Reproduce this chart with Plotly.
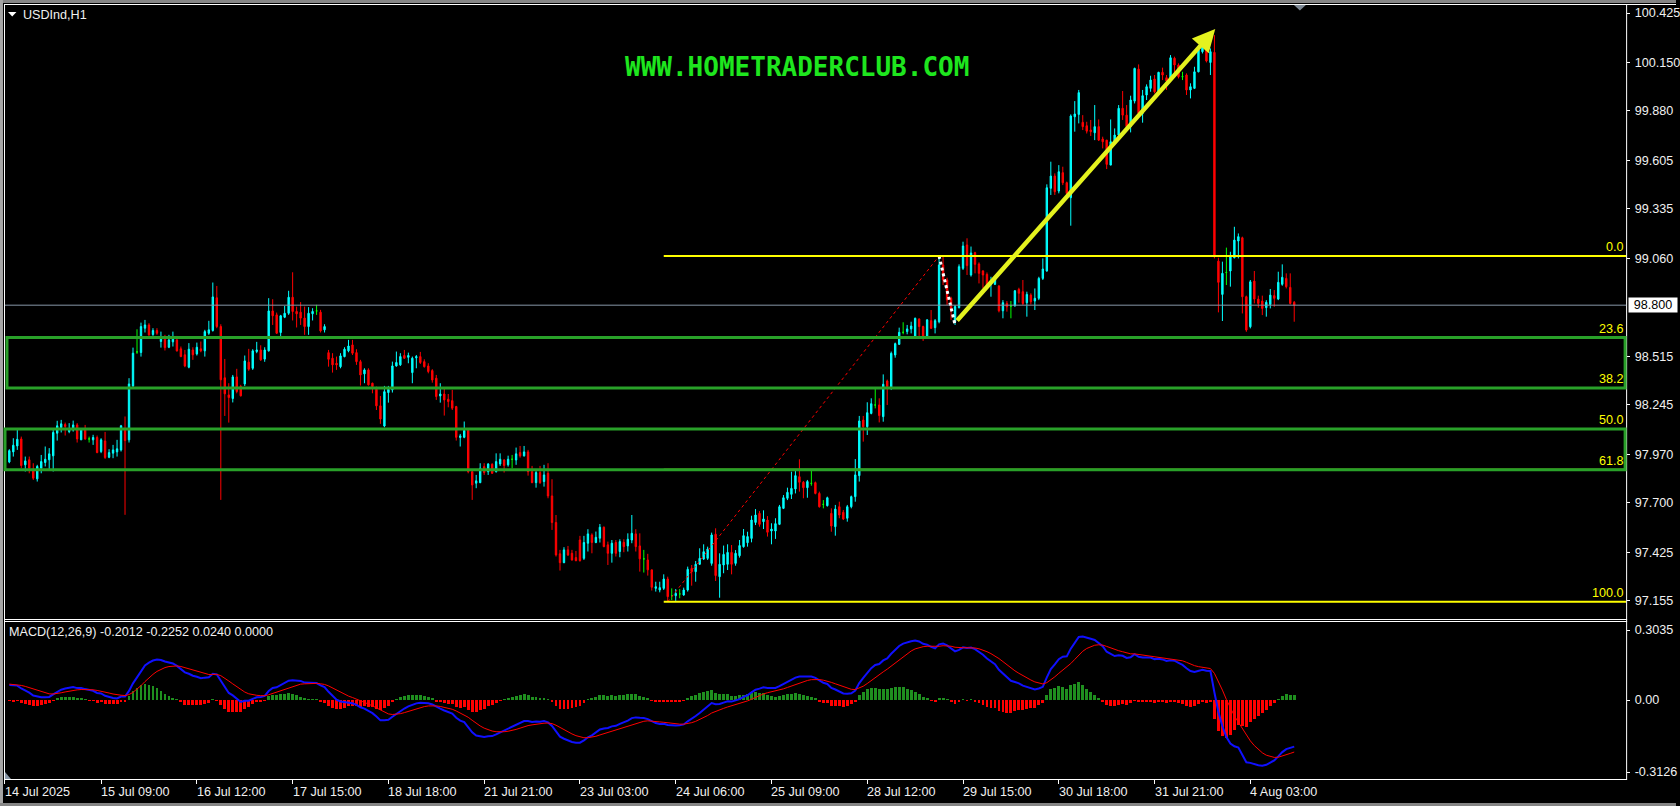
import plotly.graph_objects as go

# ---------------------------------------------------------------- data (H1 bars, oldest first)
OPEN = [
    97.928, 97.984, 98.017, 98.056, 97.912, 97.940, 97.888, 97.834, 97.893, 97.925,
    97.940, 97.962, 98.088, 98.119, 98.136, 98.097, 98.106, 98.134, 98.051, 98.110,
    98.056, 98.051, 98.064, 97.986, 98.045, 97.954, 97.977, 97.984, 97.995, 98.110,
    98.051, 98.351, 98.540, 98.537, 98.672, 98.690, 98.637, 98.659, 98.598, 98.611,
    98.566, 98.596, 98.607, 98.557, 98.524, 98.455, 98.551, 98.529, 98.557, 98.546,
    98.644, 98.659, 98.841, 98.681, 98.396, 98.301, 98.281, 98.401, 98.348, 98.362,
    98.483, 98.449, 98.542, 98.551, 98.500, 98.546, 98.768, 98.746, 98.648, 98.733,
    98.755, 98.844, 98.765, 98.761, 98.728, 98.681, 98.752, 98.768, 98.761, 98.663,
    98.536, 98.505, 98.477, 98.458, 98.514, 98.546, 98.579, 98.536, 98.486, 98.418,
    98.440, 98.366, 98.332, 98.240, 98.128, 98.314, 98.329, 98.462, 98.468, 98.520,
    98.510, 98.425, 98.507, 98.514, 98.486, 98.462, 98.436, 98.394, 98.295, 98.306,
    98.277, 98.269, 98.236, 98.064, 98.065, 98.103, 97.874, 97.810, 97.813, 97.902,
    97.874, 97.915, 97.874, 97.917, 97.939, 97.912, 97.943, 97.939, 97.980, 97.962,
    97.984, 97.874, 97.813, 97.869, 97.819, 97.865, 97.739, 97.591, 97.417, 97.368,
    97.439, 97.420, 97.396, 97.494, 97.392, 97.476, 97.522, 97.480, 97.504, 97.565,
    97.467, 97.420, 97.480, 97.430, 97.481, 97.461, 97.494, 97.528, 97.461, 97.389,
    97.383, 97.328, 97.225, 97.216, 97.225, 97.277, 97.184, 97.184, 97.194, 97.188,
    97.216, 97.336, 97.318, 97.359, 97.388, 97.392, 97.364, 97.526, 97.290, 97.355,
    97.359, 97.425, 97.364, 97.407, 97.457, 97.479, 97.503, 97.592, 97.642, 97.596,
    97.605, 97.544, 97.544, 97.581, 97.670, 97.726, 97.748, 97.778, 97.846, 97.815,
    97.785, 97.809, 97.813, 97.753, 97.692, 97.685, 97.642, 97.568, 97.679, 97.648,
    97.615, 97.679, 97.735, 97.852, 98.161, 98.124, 98.198, 98.245, 98.245, 98.180,
    98.378, 98.338, 98.523, 98.582, 98.649, 98.653, 98.668, 98.625, 98.723, 98.681,
    98.625, 98.714, 98.675, 98.708, 99.024, 98.940, 98.838, 98.708, 98.786, 99.005,
    99.135, 98.968, 99.092, 99.029, 98.990, 98.971, 98.916, 98.916, 98.906, 98.769,
    98.810, 98.795, 98.797, 98.888, 98.875, 98.814, 98.856, 98.823, 98.838, 98.949,
    98.990, 99.450, 99.518, 99.435, 99.537, 99.481, 99.398, 99.848, 99.861, 99.817,
    99.798, 99.774, 99.759, 99.793, 99.724, 99.718, 99.579, 99.709, 99.746, 99.895,
    99.857, 99.793, 99.935, 100.113, 99.867, 99.969, 100.006, 100.058, 99.991, 100.095,
    100.065, 100.052, 100.173, 100.136, 100.071, 100.080, 99.997, 100.006, 100.098, 100.210,
    100.256, 100.150, 100.206, 99.045, 98.860, 98.982, 98.990, 99.064, 99.157, 99.175,
    98.847, 98.680, 98.934, 98.834, 98.823, 98.786, 98.804, 98.853, 98.834, 98.916,
    98.949, 98.899, 98.816,
]
HIGH = [
    97.999, 98.060, 98.106, 98.069, 97.958, 97.958, 97.921, 97.912, 97.967, 98.014,
    98.005, 98.116, 98.157, 98.162, 98.147, 98.144, 98.158, 98.144, 98.116, 98.134,
    98.069, 98.079, 98.075, 98.060, 98.095, 97.999, 98.023, 98.051, 98.134, 98.181,
    98.394, 98.564, 98.666, 98.703, 98.718, 98.700, 98.672, 98.672, 98.653, 98.635,
    98.635, 98.653, 98.629, 98.570, 98.551, 98.589, 98.566, 98.592, 98.598, 98.663,
    98.713, 98.926, 98.907, 98.694, 98.501, 98.366, 98.412, 98.446, 98.357, 98.520,
    98.557, 98.555, 98.596, 98.577, 98.566, 98.839, 98.833, 98.759, 98.746, 98.796,
    98.880, 98.983, 98.792, 98.817, 98.792, 98.789, 98.783, 98.802, 98.774, 98.694,
    98.551, 98.533, 98.514, 98.533, 98.566, 98.607, 98.607, 98.555, 98.496, 98.449,
    98.449, 98.369, 98.347, 98.295, 98.351, 98.351, 98.486, 98.542, 98.533, 98.551,
    98.536, 98.514, 98.523, 98.540, 98.499, 98.477, 98.444, 98.412, 98.366, 98.338,
    98.306, 98.329, 98.240, 98.084, 98.153, 98.106, 97.884, 97.856, 97.921, 97.921,
    97.921, 97.921, 97.976, 97.976, 97.943, 97.963, 97.967, 98.008, 98.017, 98.017,
    97.995, 97.906, 97.884, 97.906, 97.912, 97.921, 97.832, 97.633, 97.439, 97.454,
    97.461, 97.439, 97.433, 97.517, 97.517, 97.554, 97.531, 97.541, 97.583, 97.569,
    97.485, 97.494, 97.494, 97.498, 97.498, 97.531, 97.633, 97.554, 97.531, 97.439,
    97.417, 97.328, 97.262, 97.262, 97.303, 97.290, 97.225, 97.221, 97.221, 97.229,
    97.346, 97.355, 97.377, 97.448, 97.470, 97.457, 97.535, 97.559, 97.420, 97.463,
    97.470, 97.466, 97.438, 97.494, 97.555, 97.540, 97.629, 97.666, 97.655, 97.659,
    97.627, 97.587, 97.615, 97.689, 97.744, 97.785, 97.874, 97.880, 97.943, 97.822,
    97.828, 97.878, 97.819, 97.763, 97.716, 97.735, 97.670, 97.689, 97.707, 97.661,
    97.689, 97.741, 97.944, 98.184, 98.184, 98.260, 98.282, 98.334, 98.282, 98.415,
    98.386, 98.542, 98.592, 98.675, 98.705, 98.690, 98.708, 98.731, 98.727, 98.686,
    98.723, 98.773, 98.723, 99.074, 99.070, 98.953, 98.847, 98.801, 99.027, 99.153,
    99.172, 99.126, 99.097, 99.038, 98.995, 98.982, 98.958, 98.953, 98.912, 98.828,
    98.823, 98.823, 98.884, 98.897, 98.940, 98.875, 98.866, 98.893, 98.958, 99.060,
    99.472, 99.598, 99.533, 99.579, 99.570, 99.487, 99.861, 99.935, 99.997, 99.857,
    99.820, 99.830, 99.913, 99.833, 99.737, 99.718, 99.833, 99.783, 99.913, 99.991,
    99.913, 99.965, 100.121, 100.139, 99.997, 100.028, 100.076, 100.080, 100.098, 100.121,
    100.080, 100.191, 100.182, 100.145, 100.098, 100.089, 100.034, 100.126, 100.247, 100.262,
    100.275, 100.228, 100.302, 99.064, 99.042, 99.120, 99.097, 99.236, 99.199, 99.181,
    98.853, 98.940, 98.990, 98.853, 98.853, 98.828, 98.890, 98.884, 98.986, 99.027,
    98.977, 98.977, 98.823,
]
LOW = [
    97.921, 97.958, 97.995, 97.893, 97.875, 97.865, 97.828, 97.819, 97.865, 97.903,
    97.884, 97.875, 98.047, 98.092, 98.075, 98.088, 98.097, 98.036, 98.051, 98.051,
    98.036, 98.023, 97.977, 97.977, 97.945, 97.949, 97.949, 97.958, 97.986, 97.634,
    98.036, 98.344, 98.529, 98.514, 98.648, 98.629, 98.629, 98.635, 98.564, 98.548,
    98.561, 98.570, 98.542, 98.511, 98.455, 98.449, 98.496, 98.520, 98.538, 98.514,
    98.635, 98.653, 98.672, 97.717, 98.184, 98.147, 98.259, 98.310, 98.292, 98.350,
    98.435, 98.440, 98.533, 98.490, 98.485, 98.542, 98.690, 98.640, 98.626, 98.728,
    98.746, 98.715, 98.676, 98.690, 98.635, 98.635, 98.715, 98.746, 98.648, 98.648,
    98.458, 98.425, 98.440, 98.449, 98.510, 98.538, 98.523, 98.468, 98.353, 98.366,
    98.353, 98.310, 98.217, 98.140, 98.121, 98.258, 98.314, 98.458, 98.462, 98.501,
    98.477, 98.366, 98.449, 98.473, 98.453, 98.421, 98.369, 98.273, 98.258, 98.186,
    98.232, 98.217, 98.047, 98.014, 98.060, 97.865, 97.717, 97.782, 97.810, 97.856,
    97.856, 97.862, 97.869, 97.906, 97.869, 97.902, 97.893, 97.912, 97.952, 97.958,
    97.852, 97.810, 97.785, 97.806, 97.791, 97.726, 97.550, 97.402, 97.324, 97.365,
    97.405, 97.379, 97.376, 97.374, 97.383, 97.430, 97.420, 97.476, 97.480, 97.454,
    97.355, 97.368, 97.402, 97.398, 97.426, 97.430, 97.476, 97.430, 97.318, 97.313,
    97.296, 97.213, 97.207, 97.203, 97.216, 97.150, 97.160, 97.155, 97.170, 97.184,
    97.207, 97.240, 97.262, 97.355, 97.383, 97.383, 97.351, 97.266, 97.173, 97.309,
    97.327, 97.303, 97.351, 97.396, 97.451, 97.457, 97.481, 97.577, 97.568, 97.555,
    97.513, 97.470, 97.500, 97.577, 97.666, 97.716, 97.722, 97.753, 97.763, 97.726,
    97.729, 97.796, 97.748, 97.674, 97.670, 97.680, 97.540, 97.518, 97.615, 97.605,
    97.596, 97.670, 97.707, 97.819, 98.041, 98.078, 98.193, 98.226, 98.148, 98.152,
    98.245, 98.328, 98.508, 98.579, 98.638, 98.638, 98.643, 98.616, 98.616, 98.601,
    98.616, 98.668, 98.643, 98.699, 98.912, 98.801, 98.718, 98.690, 98.782, 98.996,
    98.968, 98.959, 98.977, 98.921, 98.893, 98.903, 98.847, 98.912, 98.760, 98.727,
    98.764, 98.727, 98.791, 98.814, 98.801, 98.736, 98.804, 98.773, 98.828, 98.940,
    98.986, 99.413, 99.413, 99.422, 99.468, 99.413, 99.242, 99.765, 99.811, 99.774,
    99.755, 99.741, 99.718, 99.713, 99.672, 99.557, 99.579, 99.705, 99.737, 99.830,
    99.780, 99.761, 99.922, 99.857, 99.815, 99.941, 99.987, 99.978, 99.987, 100.052,
    99.997, 100.043, 100.080, 100.061, 100.052, 99.969, 99.950, 100.002, 100.095, 100.200,
    100.150, 100.080, 99.060, 98.760, 98.712, 98.912, 98.903, 99.060, 99.060, 98.754,
    98.652, 98.671, 98.810, 98.786, 98.745, 98.736, 98.782, 98.791, 98.828, 98.908,
    98.893, 98.804, 98.708,
]
CLOSE = [
    97.991, 98.021, 98.054, 97.908, 97.934, 97.893, 97.838, 97.903, 97.930, 97.943,
    97.973, 98.092, 98.129, 98.140, 98.125, 98.114, 98.134, 98.056, 98.110, 98.056,
    98.056, 98.064, 97.980, 98.051, 97.953, 97.980, 97.995, 98.001, 98.129, 98.047,
    98.362, 98.533, 98.540, 98.681, 98.690, 98.635, 98.659, 98.644, 98.611, 98.564,
    98.607, 98.611, 98.546, 98.514, 98.462, 98.555, 98.524, 98.566, 98.546, 98.653,
    98.663, 98.846, 98.681, 98.385, 98.307, 98.286, 98.401, 98.320, 98.296, 98.490,
    98.444, 98.546, 98.551, 98.496, 98.551, 98.768, 98.741, 98.644, 98.741, 98.755,
    98.844, 98.765, 98.752, 98.728, 98.681, 98.755, 98.765, 98.768, 98.657, 98.681,
    98.499, 98.468, 98.468, 98.518, 98.555, 98.573, 98.533, 98.486, 98.412, 98.440,
    98.357, 98.347, 98.240, 98.167, 98.319, 98.332, 98.462, 98.481, 98.514, 98.505,
    98.520, 98.505, 98.514, 98.481, 98.458, 98.431, 98.384, 98.292, 98.306, 98.273,
    98.264, 98.227, 98.065, 98.073, 98.103, 97.874, 97.800, 97.823, 97.893, 97.869,
    97.917, 97.865, 97.930, 97.943, 97.908, 97.943, 97.943, 97.973, 97.962, 97.984,
    97.874, 97.813, 97.869, 97.813, 97.856, 97.739, 97.591, 97.411, 97.368, 97.439,
    97.411, 97.383, 97.379, 97.379, 97.480, 97.528, 97.480, 97.509, 97.565, 97.457,
    97.420, 97.476, 97.420, 97.485, 97.457, 97.498, 97.531, 97.457, 97.389, 97.389,
    97.328, 97.231, 97.234, 97.229, 97.277, 97.179, 97.184, 97.197, 97.194, 97.216,
    97.331, 97.318, 97.359, 97.392, 97.429, 97.444, 97.522, 97.296, 97.359, 97.414,
    97.425, 97.359, 97.420, 97.463, 97.518, 97.513, 97.605, 97.633, 97.581, 97.611,
    97.537, 97.555, 97.585, 97.679, 97.729, 97.759, 97.781, 97.852, 97.815, 97.785,
    97.819, 97.809, 97.753, 97.679, 97.692, 97.729, 97.572, 97.666, 97.633, 97.611,
    97.679, 97.735, 97.856, 98.156, 98.124, 98.202, 98.252, 98.245, 98.186, 98.360,
    98.347, 98.532, 98.586, 98.649, 98.649, 98.668, 98.684, 98.727, 98.681, 98.625,
    98.718, 98.671, 98.714, 99.024, 98.940, 98.829, 98.773, 98.792, 99.014, 99.129,
    99.020, 99.090, 99.027, 98.977, 98.968, 98.912, 98.934, 98.945, 98.769, 98.814,
    98.791, 98.795, 98.880, 98.866, 98.810, 98.860, 98.819, 98.838, 98.949, 99.001,
    99.453, 99.518, 99.431, 99.542, 99.481, 99.422, 99.852, 99.863, 99.982, 99.793,
    99.768, 99.765, 99.793, 99.718, 99.709, 99.583, 99.709, 99.746, 99.895, 99.857,
    99.793, 99.941, 100.117, 99.867, 99.965, 100.015, 100.052, 99.987, 100.095, 100.080,
    100.047, 100.176, 100.136, 100.071, 100.071, 99.997, 100.015, 100.098, 100.219, 100.243,
    100.158, 100.210, 99.070, 98.927, 98.977, 98.982, 99.070, 99.162, 99.181, 98.847,
    98.662, 98.930, 98.834, 98.810, 98.782, 98.816, 98.856, 98.838, 98.927, 98.955,
    98.903, 98.810, 98.800,
]
assert len(OPEN) == len(HIGH) == len(LOW) == len(CLOSE)

SYMBOL = "USDInd,H1"
WATERMARK = "WWW.HOMETRADERCLUB.COM"

TIME_TICK_BARS = [-1.2, 23, 47, 71, 95, 119, 143, 167, 191, 215, 239, 263, 287, 311]
TIME_TICK_TEXT = ["14 Jul 2025", "15 Jul 09:00", "16 Jul 12:00", "17 Jul 15:00",
                  "18 Jul 18:00", "21 Jul 21:00", "23 Jul 03:00", "24 Jul 06:00",
                  "25 Jul 09:00", "28 Jul 12:00", "29 Jul 15:00", "30 Jul 18:00",
                  "31 Jul 21:00", "4 Aug 03:00"]
PRICE_TICKS = [100.425, 100.150, 99.880, 99.605, 99.335, 99.060,
               98.515, 98.245, 97.970, 97.700, 97.425, 97.155]
MACD_TICKS = [0.3035, 0.0, -0.3126]
MACD_TICK_TEXT = ["0.3035", "0.00", "-0.3126"]
MACD_HEADER = "MACD(12,26,9) -0.2012 -0.2252 0.0240 0.0000"
MACD_START = 0.07          # main/signal value at the first visible bar

FIB_LOW_BAR, FIB_HIGH_BAR = 165, 233
FIB_LEVELS = [0.0, 23.6, 38.2, 50.0, 61.8, 100.0]
ZONES = [(23.6, 38.2, 7), (50.0, 61.8, 5)]      # fib pair + left pixel of the box
PULLBACK_END_BAR = 237
ARROW_TAIL = (237.2, 98.706)
ARROW_TIP = (302.2, 100.336)

# ---------------------------------------------------------------- styling / geometry
W, H = 1680, 806
BULL, BEAR, DOJI = "#00ffff", "#ff0000", "#00ff00"
FIB_COLOR = "#ffff00"
ZONE_COLOR = "#29a029"
ARROW_COLOR = "#e4f21e"
TEXT_COLOR = "#f0f0f0"
FONT = "Liberation Sans"
TEXT_SIZE = 12.6

X_RANGE = [-1.333, 405.17]         # bar i is drawn at pixel 9.33 + 4*i
PRICE_RANGE = [97.0546, 100.4695]
MACD_RANGE = [-0.3427, 0.3384]
LEFT, RIGHT = 4, 1630


def fx(p):
    return p / W


def fy(p):
    return 1 - p / H


# ---------------------------------------------------------------- indicator
def ema(values, period, start):
    alpha = 2.0 / (period + 1)
    out, prev = [], start
    for v in values:
        prev += alpha * (v - prev)
        out.append(prev)
    return out


fast = ema(CLOSE, 12, CLOSE[0])
slow = ema(CLOSE, 26, CLOSE[0] - MACD_START)
macd = [f - s for f, s in zip(fast, slow)]
signal = ema(macd, 9, MACD_START)
hist = [m - s for m, s in zip(macd, signal)]

bars = list(range(len(CLOSE)))
body_idx = [i for i in bars if OPEN[i] != CLOSE[i]]
doji_idx = [i for i in bars if OPEN[i] == CLOSE[i]]


def pick(seq, idx):
    return [seq[i] for i in idx]


fig = go.Figure()

fig.add_trace(go.Candlestick(
    x=body_idx, open=pick(OPEN, body_idx), high=pick(HIGH, body_idx),
    low=pick(LOW, body_idx), close=pick(CLOSE, body_idx),
    increasing=dict(line=dict(color=BULL, width=1), fillcolor=BULL),
    decreasing=dict(line=dict(color=BEAR, width=1), fillcolor=BEAR),
    whiskerwidth=0, xaxis="x", yaxis="y", hoverinfo="skip"))
fig.add_trace(go.Candlestick(
    x=doji_idx, open=pick(OPEN, doji_idx), high=pick(HIGH, doji_idx),
    low=pick(LOW, doji_idx), close=pick(CLOSE, doji_idx),
    increasing=dict(line=dict(color=DOJI, width=1), fillcolor=DOJI),
    decreasing=dict(line=dict(color=DOJI, width=1), fillcolor=DOJI),
    whiskerwidth=0, xaxis="x", yaxis="y", hoverinfo="skip"))

# fibonacci anchor line and the pullback trend line
fib_hi = HIGH[FIB_HIGH_BAR]
fib_lo = LOW[FIB_LOW_BAR]
fig.add_trace(go.Scatter(
    x=[FIB_LOW_BAR, FIB_HIGH_BAR], y=[fib_lo, fib_hi], mode="lines",
    line=dict(color="#ff0000", width=1, dash="dot"), xaxis="x", yaxis="y",
    hoverinfo="skip"))
fig.add_trace(go.Scatter(
    x=[FIB_HIGH_BAR, PULLBACK_END_BAR], y=[fib_hi, LOW[PULLBACK_END_BAR]], mode="lines",
    line=dict(color="#ffffff", width=3, dash="dot"), xaxis="x", yaxis="y",
    hoverinfo="skip"))

# MACD pane
fig.add_trace(go.Bar(
    x=bars, y=hist, width=0.72,
    marker=dict(color=["#1f8f1f" if v >= 0 else "#ff0000" for v in hist], line=dict(width=0)),
    xaxis="x2", yaxis="y2", hoverinfo="skip"))
fig.add_trace(go.Scatter(x=bars, y=macd, mode="lines", line=dict(color="#1010ff", width=2),
                         xaxis="x2", yaxis="y2", hoverinfo="skip"))
fig.add_trace(go.Scatter(x=bars, y=signal, mode="lines", line=dict(color="#ff0000", width=1),
                         xaxis="x2", yaxis="y2", hoverinfo="skip"))

# ---------------------------------------------------------------- shapes
shapes = []


def band(x0, y0, x1, y1, color):
    shapes.append(dict(type="rect", xref="paper", yref="paper", x0=fx(x0), x1=fx(x1),
                       y0=fy(y1), y1=fy(y0), fillcolor=color, line=dict(width=0), layer="above"))


def hline(y, x0, x1, color="#ffffff", width=1):
    shapes.append(dict(type="line", xref="paper", yref="paper", x0=fx(x0), x1=fx(x1),
                       y0=fy(y), y1=fy(y), line=dict(color=color, width=width), layer="above"))


def vline(x, y0, y1, color="#ffffff", width=1):
    shapes.append(dict(type="line", xref="paper", yref="paper", x0=fx(x), x1=fx(x),
                       y0=fy(y0), y1=fy(y1), line=dict(color=color, width=width), layer="above"))


# window frame
band(0, 0, W, 3, "#858585")
band(0, 0, 3, H, "#a5a5a5")
band(0, 803, W, H, "#858585")
hline(4.5, LEFT, W)
vline(LEFT + 0.5, 4, 779.5)
vline(RIGHT + 0.5, 4, 779.5)
hline(619.5, LEFT, RIGHT + 1)
hline(621.5, LEFT, RIGHT + 1)
hline(779.5, LEFT, RIGHT + 1)

# current price line
last = CLOSE[-1]
shapes.append(dict(type="line", xref="paper", yref="y", x0=fx(LEFT + 1), x1=fx(RIGHT),
                   y0=last, y1=last, line=dict(color="#8797a8", width=1), layer="above"))

# fibonacci levels
fib_price = {lvl: fib_hi - lvl / 100.0 * (fib_hi - fib_lo) for lvl in FIB_LEVELS}
for lvl in FIB_LEVELS:
    shapes.append(dict(type="line", xref="x", yref="y", x0=FIB_LOW_BAR - 1, x1=X_RANGE[1],
                       y0=fib_price[lvl], y1=fib_price[lvl],
                       line=dict(color=FIB_COLOR, width=2), layer="above"))

# support zones
for top, bottom, left_px in ZONES:
    shapes.append(dict(type="rect", xref="paper", yref="y", x0=fx(left_px), x1=fx(RIGHT - 1),
                       y0=fib_price[bottom], y1=fib_price[top],
                       line=dict(color=ZONE_COLOR, width=3), fillcolor="rgba(0,0,0,0)",
                       layer="above"))


# small markers: chart menu triangle, shift marker, pane corner
def tri(points, color):
    path = "M " + " L ".join(f"{fx(x)},{fy(y)}" for x, y in points) + " Z"
    shapes.append(dict(type="path", xref="paper", yref="paper", path=path,
                       fillcolor=color, line=dict(width=0), layer="above"))


tri([(8, 12), (16.5, 12), (12.25, 16.5)], "#ffffff")
tri([(1297, 5), (1309, 5), (1303, 10.5)], "#7d8894")
tri([(5, 772), (5, 779), (11, 779)], "#8a98a8")

# ---------------------------------------------------------------- annotations
text_font = dict(family=FONT, size=TEXT_SIZE, color=TEXT_COLOR)
ann = []
ann.append(dict(xref="paper", yref="paper", x=fx(21), y=fy(15), xanchor="left", yanchor="middle",
                text=SYMBOL, showarrow=False, font=text_font))
ann.append(dict(xref="paper", yref="paper", x=fx(799), y=fy(67.5), xanchor="center",
                yanchor="middle", text=f"<b>{WATERMARK}</b>", showarrow=False,
                font=dict(family="DejaVu Sans Mono", size=26, color="#1ee61e")))
ann.append(dict(xref="paper", yref="paper", x=fx(7), y=fy(632), xanchor="left", yanchor="middle",
                text=MACD_HEADER, showarrow=False, font=text_font))

for lvl in FIB_LEVELS:
    ann.append(dict(xref="paper", yref="y", x=fx(RIGHT - 1), y=fib_price[lvl], xanchor="right",
                    yanchor="bottom", text=f"{lvl:.1f}", showarrow=False, borderpad=0, yshift=1,
                    font=dict(family=FONT, size=TEXT_SIZE, color=FIB_COLOR)))

for b, t in zip(TIME_TICK_BARS, TIME_TICK_TEXT):
    ann.append(dict(xref="x2", yref="paper", x=b, y=fy(792), xanchor="left", yanchor="middle",
                    text=t, showarrow=False, xshift=-2, font=text_font))

# current price tag
ann.append(dict(xref="paper", yref="y", x=fx(RIGHT + 2), y=last, xanchor="left",
                yanchor="middle", text=f"{last:.3f}", showarrow=False, bgcolor="#ffffff",
                borderpad=0, width=48, align="center",
                font=dict(family=FONT, size=TEXT_SIZE, color="#000000")))

# trend arrow
ann.append(dict(xref="x", yref="y", x=ARROW_TIP[0], y=ARROW_TIP[1],
                axref="x", ayref="y", ax=ARROW_TAIL[0], ay=ARROW_TAIL[1],
                text="", showarrow=True, arrowhead=2, arrowsize=1, arrowwidth=4.5,
                arrowcolor=ARROW_COLOR, standoff=0, startstandoff=0))

fig.update_layout(
    width=W, height=H, margin=dict(l=0, r=0, t=0, b=0),
    paper_bgcolor="#000000", plot_bgcolor="#000000",
    showlegend=False, hovermode=False, boxmode="overlay", boxgap=0.5, bargap=0,
    shapes=shapes, annotations=ann,
    xaxis=dict(domain=[fx(LEFT), fx(RIGHT)], range=X_RANGE, anchor="y",
               showgrid=False, zeroline=False, showticklabels=False, ticks="",
               rangeslider=dict(visible=False), fixedrange=True),
    yaxis=dict(domain=[fy(619), fy(5)], range=PRICE_RANGE, anchor="x", side="right",
               tickvals=PRICE_TICKS, ticktext=[f"{v:.3f}" for v in PRICE_TICKS],
               ticks="outside", ticklen=3, tickcolor="#ffffff", tickfont=text_font,
               showgrid=False, zeroline=False, fixedrange=True, ticklabelstandoff=2),
    xaxis2=dict(domain=[fx(LEFT), fx(RIGHT)], range=X_RANGE, anchor="y2",
                tickvals=TIME_TICK_BARS, ticks="outside", ticklen=4, tickcolor="#ffffff",
                showticklabels=False, showgrid=False, zeroline=False, fixedrange=True),
    yaxis2=dict(domain=[fy(779), fy(622)], range=MACD_RANGE, anchor="x2", side="right",
                tickvals=MACD_TICKS, ticktext=MACD_TICK_TEXT,
                ticks="outside", ticklen=3, tickcolor="#ffffff", tickfont=text_font,
                showgrid=False, zeroline=False, fixedrange=True, ticklabelstandoff=2),
)

fig.write_html("out.html", include_plotlyjs=True, config={"displayModeBar": False})
